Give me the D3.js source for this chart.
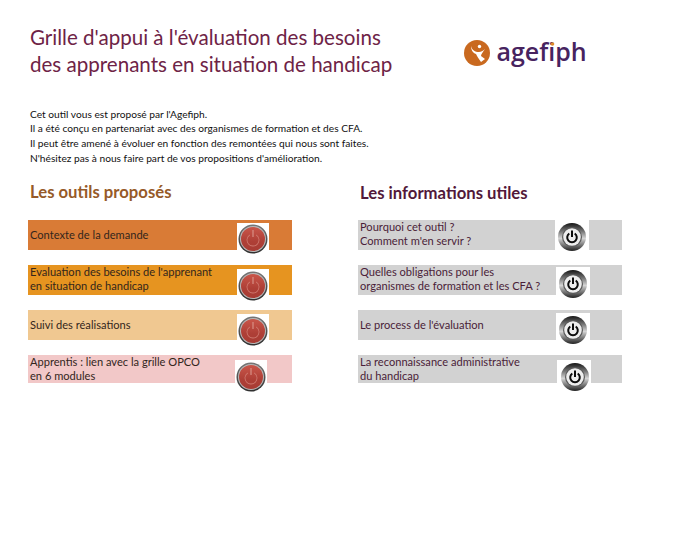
<!DOCTYPE html>
<html lang="fr">
<head>
<meta charset="utf-8">
<script src="https://cdn.jsdelivr.net/npm/d3@7"></script>
<style>
  html, body { margin: 0; padding: 0; background: #fff; }
  svg { display: block; }
  text { font-family: Lato, "Noto Sans", sans-serif; }
</style>
</head>
<body>
<div id="chart"></div>
<script>
const titleLines = ["Grille d'appui à l'évaluation des besoins", "des apprenants en situation de handicap"];
const introLines = [
  "Cet outil vous est proposé par l'Agefiph.",
  "Il a été conçu en partenariat avec des organismes de formation et des CFA.",
  "Il peut être amené à évoluer en fonction des remontées qui nous sont faites.",
  "N'hésitez pas à nous faire part de vos propositions d'amélioration."
];
const toolsHeading = "Les outils proposés";
const infoHeading = "Les informations utiles";
const toolsLabels = [
  ["Contexte de la demande"],
  ["Evaluation des besoins de l'apprenant", "en situation de handicap"],
  ["Suivi des réalisations"],
  ["Apprentis : lien avec la grille OPCO", "en 6 modules"]
];
const infoLabels = [
  ["Pourquoi cet outil ?", "Comment m'en servir ?"],
  ["Quelles obligations pour les", "organismes de formation et les CFA ?"],
  ["Le process de l'évaluation"],
  ["La reconnaissance administrative", "du handicap"]
];

const width = 680, height = 543;
const rows = d3.range(4);
// top edge of each row
const rowY = d3.scaleLinear().domain([0, 3]).range([220, 355]);
const toolsColors = ["#d97b36", "#e69420", "#f0c891", "#f2c8c8"];
const barH = [30, 30, 30, 28];

// button placement, relative to the row top
const toolsBtn = [[253, 19], [253, 21], [253, 21], [251, 22]];
const infoBtn = [[572, 17], [573, 19], [573, 20], [575, 22]];
const infoBox = [[555, 0], [556, 2], [556, 3], [557, 5]];
const toolsBox = [[237, 3], [237, 4], [237, 4], [235, 5]];

const svg = d3.select("#chart").append("svg")
  .attr("width", width)
  .attr("height", height);

const defs = svg.append("defs");

const redFace = defs.append("linearGradient").attr("id", "redFace").attr("x1", 0).attr("y1", 0).attr("x2", 0).attr("y2", 1);
redFace.append("stop").attr("offset", "0%").attr("stop-color", "#c9564a");
redFace.append("stop").attr("offset", "60%").attr("stop-color", "#ae3f36");
redFace.append("stop").attr("offset", "100%").attr("stop-color", "#a83c34");

const redRim = defs.append("linearGradient").attr("id", "redRim").attr("x1", 0).attr("y1", 0).attr("x2", 0).attr("y2", 1);
redRim.append("stop").attr("offset", "0%").attr("stop-color", "#777");
redRim.append("stop").attr("offset", "100%").attr("stop-color", "#2e2e2e");

const greyRim = defs.append("linearGradient").attr("id", "greyRim").attr("x1", 0).attr("y1", 0).attr("x2", 0).attr("y2", 1);
greyRim.append("stop").attr("offset", "0%").attr("stop-color", "#151515");
greyRim.append("stop").attr("offset", "30%").attr("stop-color", "#777");
greyRim.append("stop").attr("offset", "55%").attr("stop-color", "#d5d5d5");
greyRim.append("stop").attr("offset", "100%").attr("stop-color", "#222");

// Title and intro
svg.selectAll(".title").data(titleLines).enter().append("text")
  .attr("class", "title")
  .attr("x", 30)
  .attr("y", (_, i) => 45 + i * 26.5)
  .attr("font-size", 20.55)
  .attr("fill", "#6e2346")
  .text(d => d);

svg.selectAll(".intro").data(introLines).enter().append("text")
  .attr("class", "intro")
  .attr("x", 30)
  .attr("y", (_, i) => 117.5 + i * 14.9)
  .attr("font-size", 10.2)
  .attr("fill", "#111")
  .text(d => d);

// Logo
const logo = svg.append("g");
logo.append("circle").attr("cx", 477).attr("cy", 53).attr("r", 13).attr("fill", "#c9691f");
logo.append("path")
  .attr("d", "M471 46 C472 50 475 52 479 52 C481 52 483 51 485 49 C483 52 481 54 481 56 L485 59 L481 62 C478 58 477 56 476 54 C473 53 471 50 471 46 Z")
  .attr("fill", "#fff");
logo.append("circle").attr("cx", 479.5).attr("cy", 46.5).attr("r", 1.7).attr("fill", "#fff");
logo.append("text")
  .attr("x", 496.5)
  .attr("y", 61)
  .attr("font-size", 25)
  .attr("font-weight", 600)
  .attr("fill", "#47235f")
  .style("font-family", '"Open Sans", sans-serif')
  .style("font-variant-ligatures", "none")
  .text("agefiph");
logo.append("circle").attr("cx", 552.5).attr("cy", 44).attr("r", 1.8).attr("fill", "#e08a2a");

// Section headings
svg.append("text").attr("x", 30).attr("y", 198)
  .attr("font-size", 16.7).attr("font-weight", 700).attr("fill", "#965a28")
  .text(toolsHeading);
svg.append("text").attr("x", 360).attr("y", 199)
  .attr("font-size", 16.7).attr("font-weight", 700).attr("fill", "#52183a")
  .text(infoHeading);

const drawRows = (x0, colorOf, labels, textColor, boxes, boxW, btns, drawBtn) => {
  const g = svg.append("g");
  g.selectAll("rect.bar").data(rows).enter().append("rect")
    .attr("class", "bar")
    .attr("x", x0)
    .attr("y", d => rowY(d))
    .attr("width", 264)
    .attr("height", d => barH[d])
    .attr("fill", colorOf);

  g.selectAll("rect.box").data(rows).enter().append("rect")
    .attr("class", "box")
    .attr("x", d => boxes[d][0])
    .attr("y", d => rowY(d) + boxes[d][1])
    .attr("width", boxW)
    .attr("height", 33)
    .attr("fill", "#fff");

  rows.forEach(r => {
    const lines = labels[r];
    const base = lines.length === 1 ? rowY(r) + 19 : rowY(r) + 11;
    g.append("g").selectAll("text").data(lines).enter().append("text")
      .attr("x", x0 + 2)
      .attr("y", (_, i) => base + i * 14)
      .attr("font-size", 11.1)
      .attr("fill", textColor)
      .text(d => d);
    drawBtn(g, btns[r][0], rowY(r) + btns[r][1]);
  });
};

const redButton = (g, cx, cy) => {
  g.append("circle").attr("cx", cx).attr("cy", cy).attr("r", 14.5).attr("fill", "url(#redRim)");
  g.append("circle").attr("cx", cx).attr("cy", cy).attr("r", 13).attr("fill", "#b9b9b9");
  g.append("circle").attr("cx", cx).attr("cy", cy).attr("r", 12).attr("fill", "url(#redFace)");
  g.append("path")
    .attr("d", d3.arc()({ innerRadius: 5.6, outerRadius: 6.4, startAngle: 0.55, endAngle: 2 * Math.PI - 0.55 }))
    .attr("transform", `translate(${cx},${cy + 1})`)
    .attr("fill", "#cf7a70");
  g.append("rect").attr("x", cx - 0.5).attr("y", cy - 9).attr("width", 1).attr("height", 7).attr("fill", "#dc9c92");
};

const greyButton = (g, cx, cy) => {
  g.append("circle").attr("cx", cx).attr("cy", cy).attr("r", 14).attr("fill", "url(#greyRim)");
  g.append("circle").attr("cx", cx).attr("cy", cy).attr("r", 10).attr("fill", "#5a5a5a");
  g.append("circle").attr("cx", cx).attr("cy", cy).attr("r", 8.8).attr("fill", "#eeeeee");
  g.append("path")
    .attr("d", d3.arc()({ innerRadius: 3.8, outerRadius: 5.8, startAngle: 0.6, endAngle: 2 * Math.PI - 0.6 }))
    .attr("transform", `translate(${cx},${cy + 0.5})`)
    .attr("fill", "#0c0c0c");
  g.append("rect").attr("x", cx - 1).attr("y", cy - 6.5).attr("width", 2).attr("height", 6.5).attr("fill", "#0c0c0c");
};

drawRows(28, d => toolsColors[d], toolsLabels, "#33261c", toolsBox, 32, toolsBtn, redButton);
drawRows(358, () => "#d2d2d2", infoLabels, "#4a1d38", infoBox, 34, infoBtn, greyButton);
</script>
</body>
</html>
